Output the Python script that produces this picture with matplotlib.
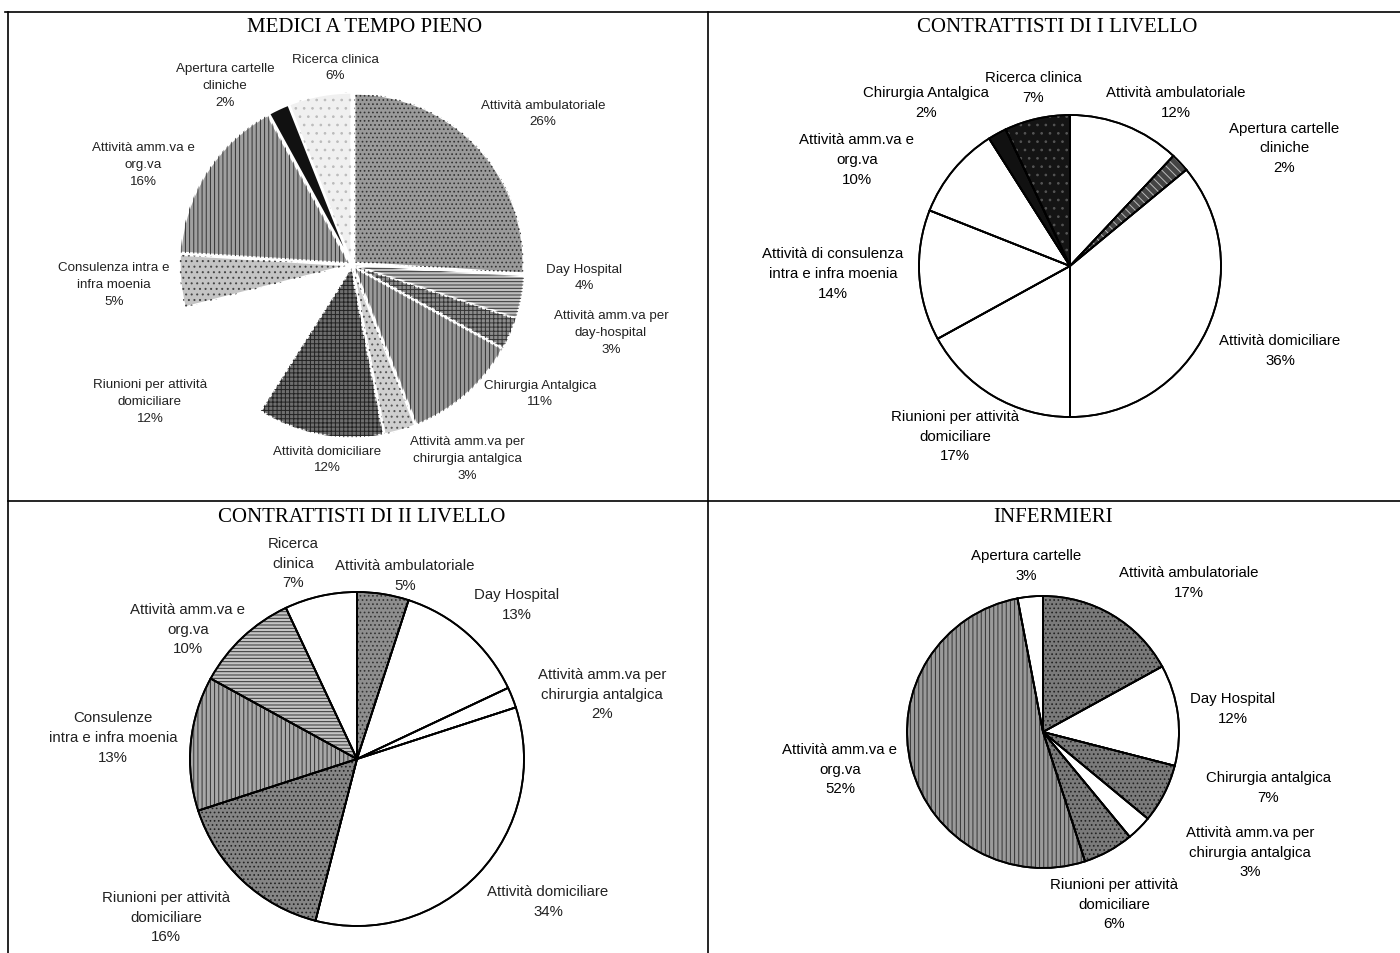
import matplotlib.pyplot as plt
from matplotlib.lines import Line2D

W, H = 1400, 954
plt.rcParams['font.family'] = ['Liberation Sans', 'DejaVu Sans']
plt.rcParams['hatch.linewidth'] = 0.7

# ---- data ----
med_title = "MEDICI A TEMPO PIENO"
med_labels = ["Attività ambulatoriale\n26%", "Day Hospital\n4%",
              "Attività amm.va per\nday-hospital\n3%", "Chirurgia Antalgica\n11%",
              "Attività amm.va per\nchirurgia antalgica\n3%", "Attività domiciliare\n12%",
              "Riunioni per attività\ndomiciliare\n12%", "Consulenza intra e\ninfra moenia\n5%",
              "Attività amm.va e\norg.va\n16%", "Apertura cartelle\ncliniche\n2%",
              "Ricerca clinica\n6%"]
med_values = [26, 4, 3, 11, 3, 12, 12, 5, 16, 2, 6]

c1_title = "CONTRATTISTI DI I LIVELLO"
c1_labels = ["Attività ambulatoriale\n12%", "Apertura cartelle\ncliniche\n2%",
             "Attività domiciliare\n36%", "Riunioni per attività\ndomiciliare\n17%",
             "Attività di consulenza\nintra e infra moenia\n14%",
             "Attività amm.va e\norg.va\n10%", "Chirurgia Antalgica\n2%",
             "Ricerca clinica\n7%"]
c1_values = [12, 2, 36, 17, 14, 10, 2, 7]

c2_title = "CONTRATTISTI DI II LIVELLO"
c2_labels = ["Attività ambulatoriale\n5%", "Day Hospital\n13%",
             "Attività amm.va per\nchirurgia antalgica\n2%", "Attività domiciliare\n34%",
             "Riunioni per attività\ndomiciliare\n16%", "Consulenze\nintra e infra moenia\n13%",
             "Attività amm.va e\norg.va\n10%", "Ricerca\nclinica\n7%"]
c2_values = [5, 13, 2, 34, 16, 13, 10, 7]

inf_title = "INFERMIERI"
inf_labels = ["Attività ambulatoriale\n17%", "Day Hospital\n12%",
              "Chirurgia antalgica\n7%", "Attività amm.va per\nchirurgia antalgica\n3%",
              "Riunioni per attività\ndomiciliare\n6%", "Attività amm.va e\norg.va\n52%",
              "Apertura cartelle\n3%"]
inf_values = [17, 12, 7, 3, 6, 52, 3]

# ---- styles (face, hatch, hatch colour) ----
med_style = [("#9a9a9a", "....", "#333333"), ("#bdbdbd", "-----", "#333333"),
             ("#8c8c8c", "++++", "#333333"), ("#9a9a9a", "||||", "#333333"),
             ("#cfcfcf", "...", "#555555"), ("#6e6e6e", "++++", "#222222"),
             ("white", "", "white"), ("#c4c4c4", "...", "#444444"),
             ("#a0a0a0", "||||", "#333333"), ("#111111", "", "#111111"),
             ("#f0f0f0", "..", "#bbbbbb")]
c1_style = [("white", "", "white"), ("#444444", "\\\\\\\\", "#bbbbbb"),
            ("white", "", "white"), ("white", "", "white"), ("white", "", "white"),
            ("white", "", "white"), ("#111111", "", "#111111"),
            ("#141414", "..", "#555555")]
c2_style = [("#8e8e8e", "....", "#333333"), ("white", "", "white"),
            ("white", "", "white"), ("white", "", "white"),
            ("#858585", "....", "#222222"), ("#a8a8a8", "||||", "#333333"),
            ("#c4c4c4", "-----", "#333333"), ("white", "", "white")]
inf_style = [("#7a7a7a", "....", "#222222"), ("white", "", "white"),
             ("#7a7a7a", "....", "#222222"), ("white", "", "white"),
             ("#7a7a7a", "....", "#222222"), ("#9a9a9a", "||||", "#333333"),
             ("white", "", "white")]

# label positions in pixels (x, y from top)
med_pos = [(543, 114), (584, 278), (611, 333), (540, 394), (467, 459), (327, 460),
           (150, 402), (114, 285), (143, 165), (225, 86), (335, 68)]
c1_pos = [(1176, 103), (1284, 148), (1280, 351), (955, 437), (833, 274),
          (857, 160), (926, 103), (1033, 88)]
c2_pos = [(405, 576), (517, 605), (602, 695), (548, 902), (166, 918), (113, 738),
          (188, 630), (293, 564)]
inf_pos = [(1189, 583), (1233, 709), (1268, 788), (1250, 853), (1114, 905),
           (840, 770), (1026, 566)]

fig = plt.figure(figsize=(W / 100, H / 100), dpi=100)


def draw_pie(cx, cy, r, values, style, edge, lw, explode):
    k = 1.12
    ax = fig.add_axes([(cx - k * r) / W, 1 - (cy + k * r) / H, 2 * k * r / W, 2 * k * r / H])
    ex = [explode] * len(values)
    faces = [s[0] for s in style]
    ax.pie(values, colors=faces, startangle=90, counterclock=False, explode=ex,
           wedgeprops=dict(edgecolor=edge, linewidth=lw))
    wedges, _ = ax.pie(values, colors=["none"] * len(values), startangle=90,
                       counterclock=False, explode=ex, wedgeprops=dict(linewidth=0))
    for w, s in zip(wedges, style):
        if s[1]:
            w.set_hatch(s[1])
            w.set_edgecolor(s[2])
            w.set_linewidth(0)
    if edge != "white":
        ax.pie(values, colors=["none"] * len(values), startangle=90, counterclock=False,
               explode=ex, wedgeprops=dict(edgecolor=edge, linewidth=lw, fill=False))
    ax.set_xlim(-k, k)
    ax.set_ylim(-k, k)
    ax.axis("off")


def draw_labels(labels, pos, size, color, spacing):
    for s, (x, y) in zip(labels, pos):
        fig.text(x / W, 1 - y / H, s, ha="center", va="center", fontsize=size,
                 color=color, linespacing=spacing)


draw_pie(352, 266, 169, med_values, med_style, "white", 1.5, 0.02)
draw_pie(1070, 267, 151, c1_values, c1_style, "black", 1.3, 0)
draw_pie(357, 760, 167, c2_values, c2_style, "black", 1.3, 0)
draw_pie(1043, 733, 136, inf_values, inf_style, "black", 1.3, 0)

draw_labels(med_labels, med_pos, 9.6, "#222222", 1.55)
draw_labels(c1_labels, c1_pos, 10.8, "black", 1.5)
draw_labels(c2_labels, c2_pos, 10.8, "#222222", 1.5)
draw_labels(inf_labels, inf_pos, 10.8, "black", 1.5)

for t, x, y in [(med_title, 365, 28), (c1_title, 1057, 28), (c2_title, 362, 518), (inf_title, 1053, 518)]:
    fig.text(x / W, 1 - y / H, t, ha="center", va="center", fontsize=15,
             family="Liberation Serif")

# frame lines
for xs, ys in [((5, 1400), (13, 13)), ((8, 8), (13, 954)), ((708, 708), (13, 954)),
               ((8, 1400), (502, 502))]:
    fig.add_artist(Line2D([x / W for x in xs], [1 - y / H for y in ys], color="black", lw=1.2))

plt.savefig("out.png", dpi=100)
